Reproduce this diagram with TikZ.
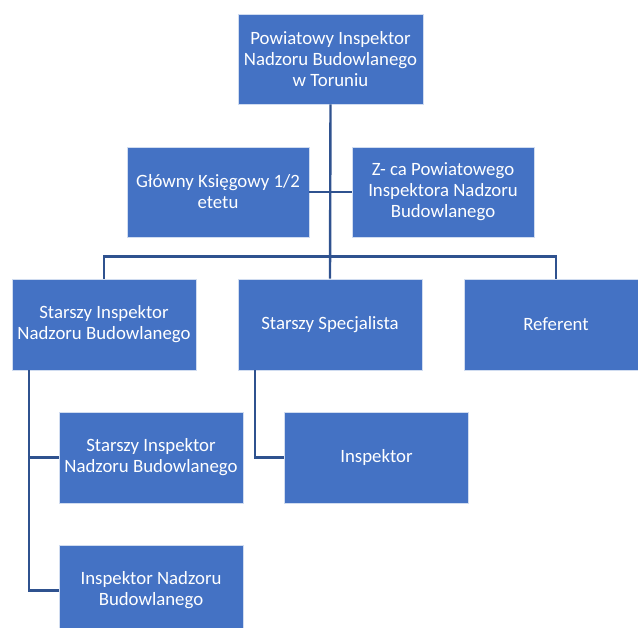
\documentclass[tikz,border=0pt]{standalone}
\usepackage{fontspec}
\setmainfont{Carlito}
\definecolor{boxblue}{HTML}{4472C4}
\definecolor{linkblue}{HTML}{2F528F}
\begin{document}
\begin{tikzpicture}[x=1pt,y=-1pt,
  orgbox/.style={fill=boxblue, draw=white!75!boxblue, line width=0.6pt, text=white,
    align=center, minimum width=184pt, minimum height=91pt, inner sep=2pt,
    font=\fontsize{18.8}{21}\selectfont},
  link/.style={draw=linkblue, line width=2.4pt}]
\useasboundingbox (0,0) rectangle (638,628);
\clip (0,0) rectangle (638,628);
\node[orgbox, minimum width=185pt, minimum height=90pt] (top) at (330.5,59) {Powiatowy Inspektor\\Nadzoru Budowlanego\\w Toruniu};
\node[orgbox, minimum width=182pt, minimum height=90pt] (glowny) at (218,192) {Główny Księgowy 1/2\\etetu};
\node[orgbox, minimum width=182pt, minimum height=90pt] (zca) at (443,192) {Z- ca Powiatowego\\Inspektora Nadzoru\\Budowlanego};
\node[orgbox] (ssi) at (104,324.5) {Starszy Inspektor\\Nadzoru Budowlanego};
\node[orgbox] (ss) at (330,324.5) {Starszy Specjalista};
\node[orgbox] (ref) at (556,324.5) {Referent};
\node[orgbox] (sub1) at (151,457.5) {Starszy Inspektor\\Nadzoru Budowlanego};
\node[orgbox] (sub2) at (151,590.5) {Inspektor Nadzoru\\Budowlanego};
\node[orgbox] (insp) at (376.5,457.5) {Inspektor};
\begin{scope}[link]
\draw (top.south) -- (ss.north);
\draw (glowny.east) -- (zca.west);
\draw (ssi.north) -- ++(0,-22) -| (ref.north);
\draw ([xshift=-75pt]ssi.south) |- (sub1.west);
\draw ([xshift=-75pt]ssi.south) |- (sub2.west);
\draw ([xshift=-75pt]ss.south) |- (insp.west);
\end{scope}
\end{tikzpicture}
\end{document}
